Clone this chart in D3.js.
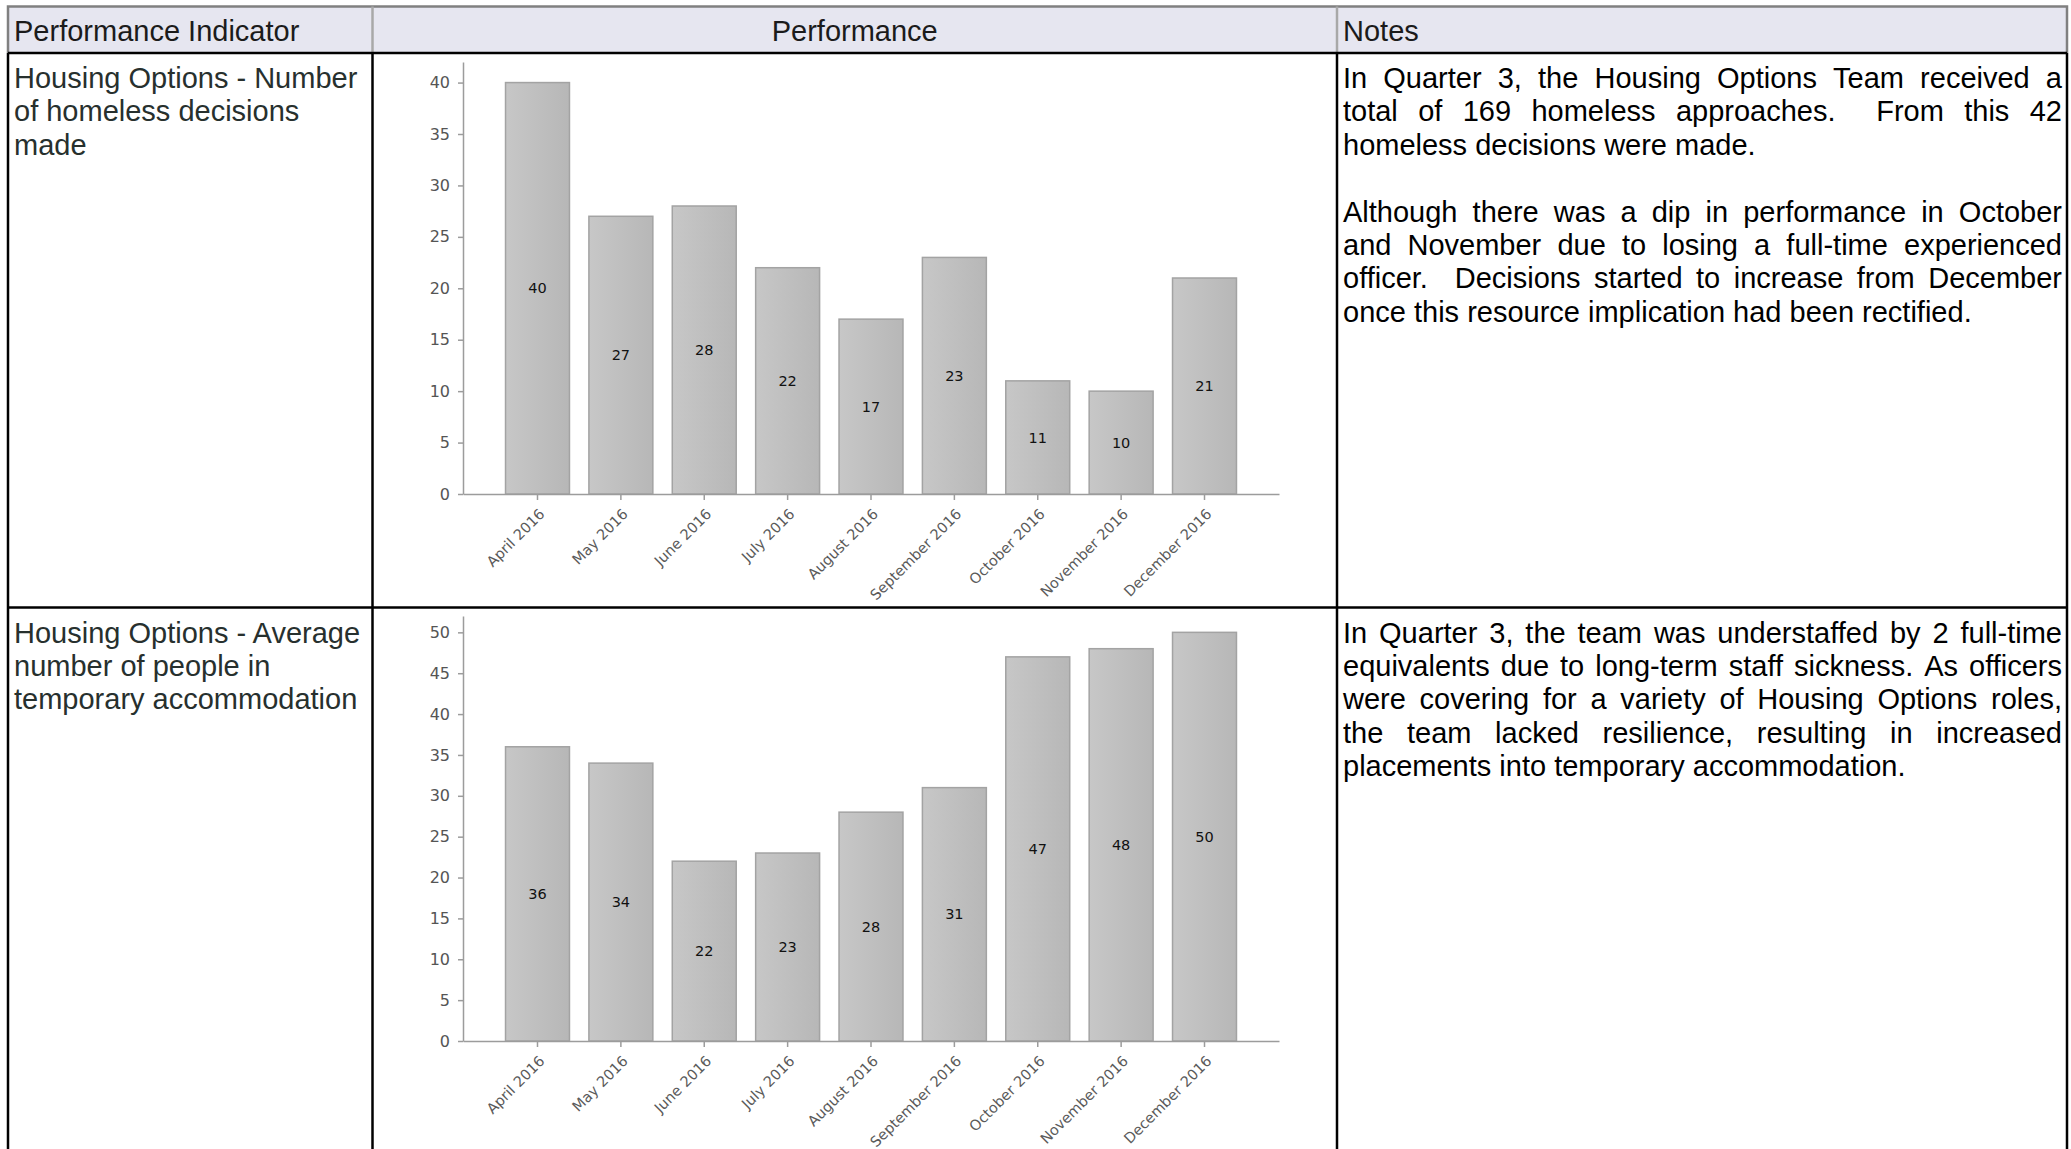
<!DOCTYPE html>
<html>
<head>
<meta charset="utf-8">
<script src="https://cdn.jsdelivr.net/npm/d3@7"></script>
<style>
  html, body { margin: 0; padding: 0; background: #fff; }
  svg { display: block; }
  .cell-text { font-family: "Liberation Sans", Arial, sans-serif; font-size: 29px; }
  .axis text { font-family: "DejaVu Sans", Verdana, sans-serif; }
</style>
</head>
<body>
<svg id="sheet"></svg>
<script>
// ---- data ----
const months = ["April 2016", "May 2016", "June 2016", "July 2016", "August 2016",
  "September 2016", "October 2016", "November 2016", "December 2016"];
const decisionsMade = [40, 27, 28, 22, 17, 23, 11, 10, 21];
const peopleInTempAcc = [36, 34, 22, 23, 28, 31, 47, 48, 50];
const decisionsTicks = [0, 5, 10, 15, 20, 25, 30, 35, 40];
const tempAccTicks = [0, 5, 10, 15, 20, 25, 30, 35, 40, 45, 50];

const headers = ["Performance Indicator", "Performance", "Notes"];
const indicator1 = ["Housing Options - Number", "of homeless decisions", "made"];
const indicator2 = ["Housing Options - Average", "number of people in", "temporary accommodation"];

// paragraphs of lines; last line of each paragraph is not justified
const notes1 = [
  ["In Quarter 3, the Housing Options Team received a",
   "total of 169 homeless approaches.  From this 42",
   "homeless decisions were made."],
  ["Although there was a dip in performance in October",
   "and November due to losing a full-time experienced",
   "officer.  Decisions started to increase from December",
   "once this resource implication had been rectified."]
];
const notes2 = [
  ["In Quarter 3, the team was understaffed by 2 full-time",
   "equivalents due to long-term staff sickness. As officers",
   "were covering for a variety of Housing Options roles,",
   "the team lacked resilience, resulting in increased",
   "placements into temporary accommodation."]
];

// ---- layout ----
const W = 2071, H = 1149;
const colX = [8, 372.5, 1337, 2067];
const rowY = [6.5, 53, 607.5, 1170];
const lineH = 33.4;

var svg = d3.select("#sheet").attr("width", W).attr("height", H);
svg.append("rect").attr("width", W).attr("height", H).attr("fill", "#fff");

var defs = svg.append("defs");
var grad = defs.append("linearGradient").attr("id", "barGrad")
  .attr("x1", 0).attr("x2", 1).attr("y1", 0).attr("y2", 0);
grad.append("stop").attr("offset", "0%").attr("stop-color", "#c7c7c7");
grad.append("stop").attr("offset", "100%").attr("stop-color", "#b7b7b7");

// header band
svg.append("rect")
  .attr("x", colX[0]).attr("y", rowY[0])
  .attr("width", colX[3] - colX[0]).attr("height", rowY[1] - rowY[0])
  .attr("fill", "#e6e6f0");

// header text
svg.append("g").selectAll("text").data(headers).join("text")
  .attr("class", "cell-text")
  .attr("x", (d, i) => i == 1 ? (colX[1] + colX[2]) / 2 : colX[i] + 6)
  .attr("y", 41)
  .attr("text-anchor", (d, i) => i == 1 ? "middle" : "start")
  .attr("fill", "#1b1b1b")
  .text(d => d);

// indicator text (left column)
function drawIndicator(lines, top) {
  svg.append("g").selectAll("text").data(lines).join("text")
    .attr("class", "cell-text")
    .attr("x", colX[0] + 6)
    .attr("y", (d, i) => top + 35 + i * lineH)
    .attr("fill", "#27302e")
    .text(d => d);
}
drawIndicator(indicator1, rowY[1]);
drawIndicator(indicator2, rowY[2]);

// notes (justified like the original word table)
function drawNotes(paragraphs, top) {
  var x0 = colX[2] + 6, width = 2062 - x0;
  var g = svg.append("g");
  var row = 0;
  paragraphs.forEach(function (para, p) {
    para.forEach(function (line, i) {
      var y = top + 35 + row * lineH;
      var justify = i < para.length - 1;
      if (!justify) {
        g.append("text").attr("class", "cell-text")
          .attr("x", x0).attr("y", y).attr("fill", "#000")
          .attr("xml:space", "preserve").text(line);
      } else {
        var words = line.split(" ");
        var t = g.append("text").attr("class", "cell-text")
          .attr("y", y).attr("fill", "#000");
        var spans = words.map(w => t.append("tspan").text(w));
        var widths = spans.map(s => s.node().getComputedTextLength());
        var gap = (width - d3.sum(widths)) / (words.length - 1);
        var cx = x0;
        spans.forEach(function (s, k) {
          s.attr("x", cx);
          cx += widths[k] + gap;
        });
      }
      row++;
    });
    row++; // blank line between paragraphs
  });
}
drawNotes(notes1, rowY[1]);
drawNotes(notes2, rowY[2]);

// ---- charts ----
function drawChart(values, ticks, domainMax, top, bottom) {
  var x = d3.scaleBand().domain(months).range([463, 1279])
    .paddingInner(0.233).paddingOuter(0.51);
  var y = d3.scaleLinear().domain([0, domainMax]).range([bottom, top]);
  var g = svg.append("g");

  g.append("g").selectAll("rect").data(values).join("rect")
    .attr("x", (d, i) => x(months[i]))
    .attr("y", d => y(d))
    .attr("width", x.bandwidth())
    .attr("height", d => y(0) - y(d))
    .attr("fill", "url(#barGrad)")
    .attr("stroke", "#a3a3a3")
    .attr("stroke-width", 1.5);

  g.append("g").selectAll("text").data(values).join("text")
    .attr("x", (d, i) => x(months[i]) + x.bandwidth() / 2)
    .attr("y", d => y(d / 2))
    .attr("dy", "0.35em")
    .attr("text-anchor", "middle")
    .attr("font-family", "DejaVu Sans, Verdana, sans-serif")
    .attr("font-size", 14.5)
    .attr("fill", "#111")
    .text(d => d);

  var yAxis = g.append("g").attr("class", "axis")
    .attr("transform", "translate(463,0)")
    .call(d3.axisLeft(y).tickValues(ticks).tickSize(5).tickSizeOuter(0).tickPadding(8));
  yAxis.selectAll("text").attr("font-size", 16).attr("fill", "#555");

  var xAxis = g.append("g").attr("class", "axis")
    .attr("transform", "translate(0," + bottom + ")")
    .call(d3.axisBottom(x).tickSize(6).tickSizeOuter(0));
  xAxis.selectAll("text")
    .attr("y", 0).attr("dy", null)
    .attr("text-anchor", "end")
    .attr("transform", "translate(8,21) rotate(-45)")
    .attr("font-size", 14.5)
    .attr("fill", "#5a5a5a");

  g.selectAll(".axis path, .axis line")
    .attr("stroke", "#9c9c9c").attr("stroke-width", 1.5);
}
drawChart(decisionsMade, decisionsTicks, 42, 62, 494);
drawChart(peopleInTempAcc, tempAccTicks, 52, 616, 1041);

// ---- table borders ----
var borders = svg.append("g");
// header: grey frame
borders.append("path")
  .attr("d", "M" + colX[0] + "," + rowY[1] + "V" + rowY[0] + "H" + colX[3] + "V" + rowY[1])
  .attr("fill", "none").attr("stroke", "#808080").attr("stroke-width", 2.5);
borders.selectAll(".hdiv").data(colX.slice(1, 3)).join("line")
  .attr("x1", d => d).attr("x2", d => d)
  .attr("y1", rowY[0]).attr("y2", rowY[1])
  .attr("stroke", "#a8a8a8").attr("stroke-width", 2.5);
// body: black grid
borders.selectAll(".vdiv").data(colX).join("line")
  .attr("x1", d => d).attr("x2", d => d)
  .attr("y1", rowY[1]).attr("y2", rowY[3])
  .attr("stroke", "#000").attr("stroke-width", 2.5);
borders.selectAll(".hrow").data(rowY.slice(1, 3)).join("line")
  .attr("x1", colX[0]).attr("x2", colX[3])
  .attr("y1", d => d).attr("y2", d => d)
  .attr("stroke", "#000").attr("stroke-width", 2.5);
</script>
</body>
</html>
